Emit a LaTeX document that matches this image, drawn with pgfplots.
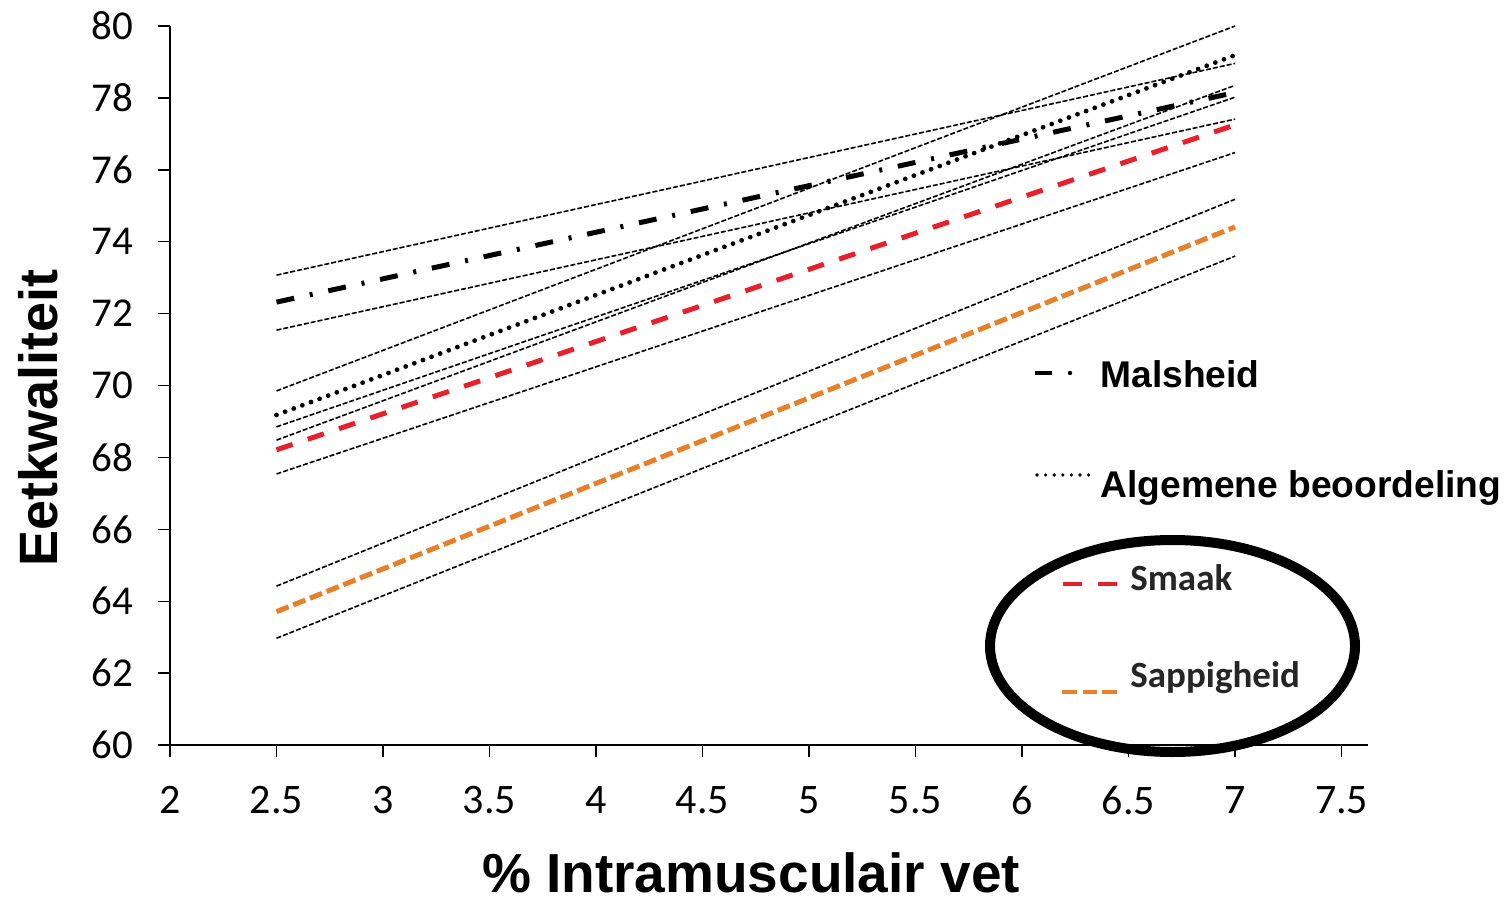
\documentclass[border=0pt]{standalone}
\usepackage{fontspec}
\setmainfont{Liberation Sans}
\newfontfamily\carlito{Carlito}
\usepackage{pgfplots}
\pgfplotsset{compat=1.18}
\definecolor{smaakred}{HTML}{E8202A}
\definecolor{sapporange}{HTML}{E8802A}
\definecolor{legtext}{HTML}{262626}
\begin{document}
\begin{tikzpicture}
\useasboundingbox (0,0) rectangle (755pt,453.5pt);
\begin{axis}[
  at={(85pt,81pt)}, anchor=south west,
  scale only axis, width=599pt, height=359.5pt,
  xmin=2, xmax=7.624, ymin=60, ymax=80,
  axis lines*=left,
  axis line style={line width=1pt, black},
  xtick={2,2.5,3,3.5,4,4.5,5,5.5,6,6.5,7,7.5},
  xticklabels={2,2.5,3,3.5,4,4.5,5,5.5,6,6.5,7,7.5},
  ytick={60,62,64,66,68,70,72,74,76,78,80},
  yticklabels={60,62,64,66,68,70,72,74,76,78,80},
  tick align=outside, major tick length=6pt,
  tick style={line width=0.7pt, black},
  /pgf/number format/assume math mode=true,
  xticklabel style={font=\carlito\fontsize{21}{22}\selectfont, yshift=-11pt},
  yticklabel style={font=\carlito\fontsize{20.5}{22}\selectfont, xshift=-9pt},
  xlabel={\% Intramusculair vet},
  ylabel={Eetkwaliteit},
  xlabel style={font=\bfseries\fontsize{27.5}{30}\selectfont, inner sep=0pt, at={(axis description cs:0.485,-0.178)}, anchor=center},
  ylabel style={font=\bfseries\fontsize{27}{29}\selectfont, inner sep=0pt, at={(axis description cs:-0.110,0.4548)}, anchor=center},
  clip=false,
]
% confidence bands
\pgfplotsset{band/.style={black, line width=0.8pt, dash pattern=on 2.5pt off 1pt}}
\addplot[band] coordinates {(2.5,73.07) (7,78.96)};
\addplot[band] coordinates {(2.5,71.54) (7,77.41)};
\addplot[band] coordinates {(2.5,69.85) (7,80.00)};
\addplot[band] coordinates {(2.5,68.48) (7,78.35)};
\addplot[band] coordinates {(2.5,68.85) (7,78.02)};
\addplot[band] coordinates {(2.5,67.54) (7,76.48)};
\addplot[band] coordinates {(2.5,64.42) (7,75.18)};
\addplot[band] coordinates {(2.5,62.97) (7,73.60)};
% main lines
\addplot[black, line width=2.5pt, dash pattern=on 9pt off 8pt on 1.5pt off 8pt] coordinates {(2.5,72.32) (7,78.15)};
\addplot[black, line width=2.4pt, line cap=round, dash pattern=on 0pt off 4.6pt] coordinates {(2.5,69.18) (7,79.19)};
\addplot[smaakred, line width=2.5pt, dash pattern=on 8.5pt off 8pt] coordinates {(2.5,68.21) (7,77.25)};
\addplot[sapporange, line width=2.5pt, dash pattern=on 6.5pt off 2.5pt] coordinates {(2.5,63.71) (7,74.41)};
\end{axis}
% legend
\draw[black, line width=2pt] (517.5pt,267pt) -- (526pt,267pt);
\fill[black] (535pt,267pt) circle (1.1pt);
\node[anchor=base west, inner sep=0pt, font=\bfseries\fontsize{18.6}{20}\selectfont] at (550pt,260pt) {Malsheid};
\draw[black, line width=1.8pt, line cap=round, dash pattern=on 0pt off 4.3pt] (518.5pt,216pt) -- (545pt,216pt);
\node[anchor=base west, inner sep=0pt, font=\bfseries\fontsize{18.6}{20}\selectfont] at (550pt,205pt) {Algemene beoordeling};
\draw[smaakred, line width=1.8pt] (531.5pt,161.5pt) -- (541pt,161.5pt);
\draw[smaakred, line width=1.8pt] (549pt,161.5pt) -- (558.5pt,161.5pt);
\node[anchor=base west, inner sep=0pt, text=legtext, font=\carlito\bfseries\fontsize{18.5}{20}\selectfont] at (565pt,158.5pt) {Smaak};
\draw[sapporange, line width=1.8pt] (531pt,107.5pt) -- (538.5pt,107.5pt);
\draw[sapporange, line width=1.8pt] (541.5pt,107.5pt) -- (548.5pt,107.5pt);
\draw[sapporange, line width=1.8pt] (551pt,107.5pt) -- (558.5pt,107.5pt);
\node[anchor=base west, inner sep=0pt, text=legtext, font=\carlito\bfseries\fontsize{18.5}{20}\selectfont] at (565pt,110pt) {Sappigheid};
\draw[black, line width=5pt] (586.25pt,130.5pt) ellipse [x radius=91.25pt, y radius=53pt];
\end{tikzpicture}
\end{document}
